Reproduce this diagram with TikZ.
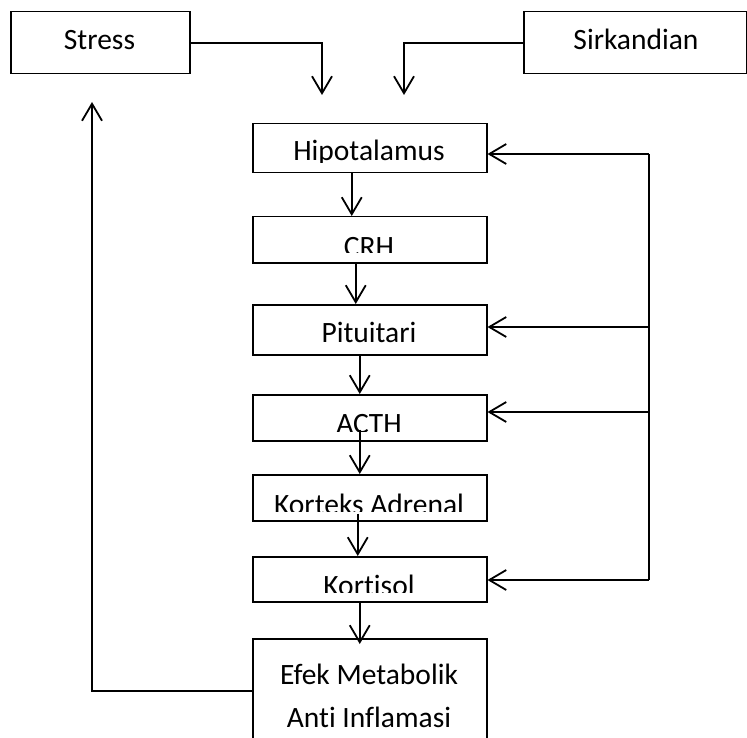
\documentclass[tikz,border=0pt]{standalone}
\usepackage{fontspec}
\setmainfont[Ligatures=NoCommon]{Carlito}
\usetikzlibrary{arrows.meta}
\begin{document}
\begin{tikzpicture}[x=1pt,y=-1pt,
  box/.style={draw, line width=1.5pt, inner sep=0pt, anchor=north west},
  cbox/.style={box, minimum width=234pt},
  arr/.style={line width=1.8pt, -{Straight Barb[length=17pt,width=20pt]}},
  ln/.style={line width=1.8pt},
  lab/.style={font=\fontsize{29.5}{43}\selectfont, inner sep=0pt, anchor=base}]
\useasboundingbox (0,0) rectangle (747,738);

% top boxes
\node[box, minimum width=179pt, minimum height=62pt] (stress) at (10,11) {};
\node[lab] (tstress) at (99.5,50) {Stress};
\node[box, minimum width=223pt, minimum height=62pt] (sirk) at (523,11) {};
\node[lab] (tsirk) at (636,50) {Sirkandian};

% central column boxes
\node[cbox, minimum height=49pt] (hip) at (252,123) {};
\node[cbox, minimum height=46pt] (crh) at (252,216) {};
\node[cbox, minimum height=50pt] (pit) at (252,304) {};
\node[cbox, minimum height=46pt] (acth) at (252,394) {};
\node[cbox, minimum height=46pt] (kor) at (252,474) {};
\node[cbox, minimum height=45pt] (kort) at (252,556) {};
\node[cbox, minimum height=104pt] (efek) at (252,638) {};

% clipped labels
\begin{scope}
\clip (252,123) rectangle (486,163);
\node[lab] (thip) at (369,161) {Hipotalamus};
\end{scope}
\begin{scope}
\clip (252,216) rectangle (486,253);
\node[lab] (tcrh) at (369,256.5) {CRH};
\end{scope}
\node[lab] (tpit) at (369,342) {Pituitari};
\begin{scope}
\clip (252,394) rectangle (486,431);
\node[lab] (tacth) at (369,433.5) {ACTH};
\end{scope}
\begin{scope}
\clip (252,474) rectangle (486,511);
\node[lab] (tkor) at (369,514) {Korteks Adrenal};
\end{scope}
\begin{scope}
\clip (252,556) rectangle (486,592);
\node[lab] (tkort) at (369,595) {Kortisol};
\end{scope}
\node[lab] (tefek1) at (369,684) {Efek Metabolik};
\node[lab] (tefek2) at (369,727) {Anti Inflamasi};

% input arrows
\coordinate (s1) at (322,95);
\coordinate (s2) at (404,95);
\draw[arr] (stress.east) -| (s1);
\draw[arr] (sirk.west) -| (s2);

% chain arrows
\draw[arr] ([xshift=-18pt]hip.south) -- ([xshift=-18pt]crh.north);
\draw[arr] ([xshift=-14pt]crh.south) -- ([xshift=-14pt]pit.north);
\draw[arr] ([xshift=-10pt]pit.south) -- ([xshift=-10pt]acth.north);
\draw[arr] ([xshift=-10pt,yshift=12pt]acth.south) -- ([xshift=-10pt]kor.north);
\draw[arr] ([xshift=-12pt,yshift=8pt]kor.south) -- ([xshift=-12pt]kort.north);
\draw[arr] ([xshift=-10pt]kort.south) -- ([xshift=-10pt,yshift=-6pt]efek.north);

% feedback on the right
\coordinate (r1) at (649,154);
\coordinate (r2) at (649,327);
\coordinate (r3) at (649,412);
\coordinate (r4) at (649,580);
\draw[ln] (r1) -- (r4);
\draw[arr] (r1) -- (r1 -| hip.east);
\draw[arr] (r2) -- (r2 -| pit.east);
\draw[arr] (r3) -- (r3 -| acth.east);
\draw[arr] (r4) -- (r4 -| kort.east);

% feedback on the left
\coordinate (u) at (92,102);
\draw[arr] (efek.west) -| (u);
\end{tikzpicture}
\end{document}
